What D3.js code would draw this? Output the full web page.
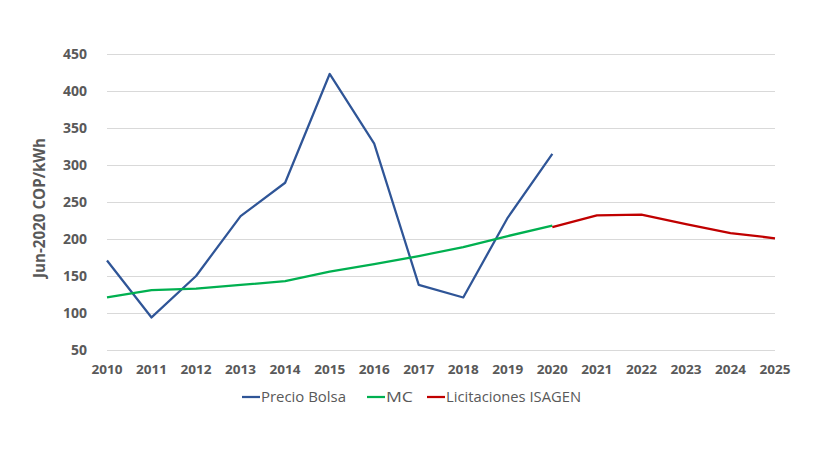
<!DOCTYPE html>
<html><head><meta charset="utf-8">
<script src="https://cdn.jsdelivr.net/npm/d3@7"></script>
<style>body{margin:0;background:#fff;}svg{display:block;}</style>
</head><body>
<svg id="chart" width="822" height="462"></svg>
<script>
const years = [2010,2011,2012,2013,2014,2015,2016,2017,2018,2019,2020,2021,2022,2023,2024,2025];
const precioYears = [2010,2011,2012,2013,2014,2015,2016,2017,2018,2019,2020];
const precioBolsa = [171,94,150,231,276,423,329,138,121,229,315];
const mcYears = [2010,2011,2012,2013,2014,2015,2016,2017,2018,2019,2020];
const mc = [121,131,133,138,143,156,166,177,189,204,218];
const licYears = [2020,2021,2022,2023,2024,2025];
const licitaciones = [216,232,233,220,208,201];
const yTicks = [50,100,150,200,250,300,350,400,450];
const seriesNames = ["Precio Bolsa","MC","Licitaciones ISAGEN"];
const colors = ["#2F5597","#00B050","#C00000"];

const svg = d3.select("#chart");
const x = d3.scaleLinear().domain([2010,2025]).range([107,775]);
const y = d3.scaleLinear().domain([50,450]).range([350,54]);

// gridlines
svg.append("g").selectAll("line").data(yTicks).join("line")
  .attr("x1",107).attr("x2",775)
  .attr("y1",d=>y(d)+0.5).attr("y2",d=>y(d)+0.5)
  .attr("stroke","#d9d9d9").attr("stroke-width",1);

// y tick labels
svg.append("g").selectAll("text").data(yTicks).join("text")
  .attr("x",87).attr("y",d=>y(d)).attr("dy","0.35em")
  .attr("text-anchor","end")
  .attr("font-family","'Open Sans', sans-serif").attr("font-weight","bold")
  .attr("font-size",14).attr("fill","#595959")
  .text(d=>d);

// x tick labels
svg.append("g").selectAll("text").data(years).join("text")
  .attr("x",d=>x(d)).attr("y",369).attr("dy","0.35em")
  .attr("text-anchor","middle")
  .attr("font-family","'Open Sans', sans-serif").attr("font-weight","bold")
  .attr("font-size",13).attr("fill","#595959")
  .attr("textLength",31).attr("lengthAdjust","spacingAndGlyphs")
  .text(d=>d);

// y axis title
svg.append("text")
  .attr("transform","translate(45,208) rotate(-90)")
  .attr("text-anchor","middle")
  .attr("font-family","'Open Sans', sans-serif").attr("font-weight","bold")
  .attr("font-size",16).attr("fill","#595959")
  .attr("textLength",140).attr("lengthAdjust","spacingAndGlyphs")
  .text("Jun-2020 COP/kWh");

const line = d3.line().x(d=>x(d[0])).y(d=>y(d[1]));
const series = [
  d3.zip(precioYears, precioBolsa),
  d3.zip(mcYears, mc),
  d3.zip(licYears, licitaciones)
];
svg.append("g").selectAll("path").data(series).join("path")
  .attr("d",line).attr("fill","none")
  .attr("stroke",(d,i)=>colors[i]).attr("stroke-width",2.25)
  .attr("stroke-linejoin","round");

// legend
const legendX = [242,367,427];
const legendTextW = [85,27,135];
const lg = svg.append("g").selectAll("g").data(seriesNames).join("g")
  .attr("transform",(d,i)=>`translate(${legendX[i]},397)`);
lg.append("line").attr("x1",0).attr("x2",18).attr("y1",0).attr("y2",0)
  .attr("stroke",(d,i)=>colors[i]).attr("stroke-width",2.25);
lg.append("text").attr("x",19).attr("dy","0.35em")
  .attr("font-family","'Open Sans', sans-serif").attr("font-size",14).attr("fill","#595959")
  .attr("textLength",(d,i)=>legendTextW[i]).attr("lengthAdjust","spacingAndGlyphs")
  .text(d=>d);
</script>
</body></html>
